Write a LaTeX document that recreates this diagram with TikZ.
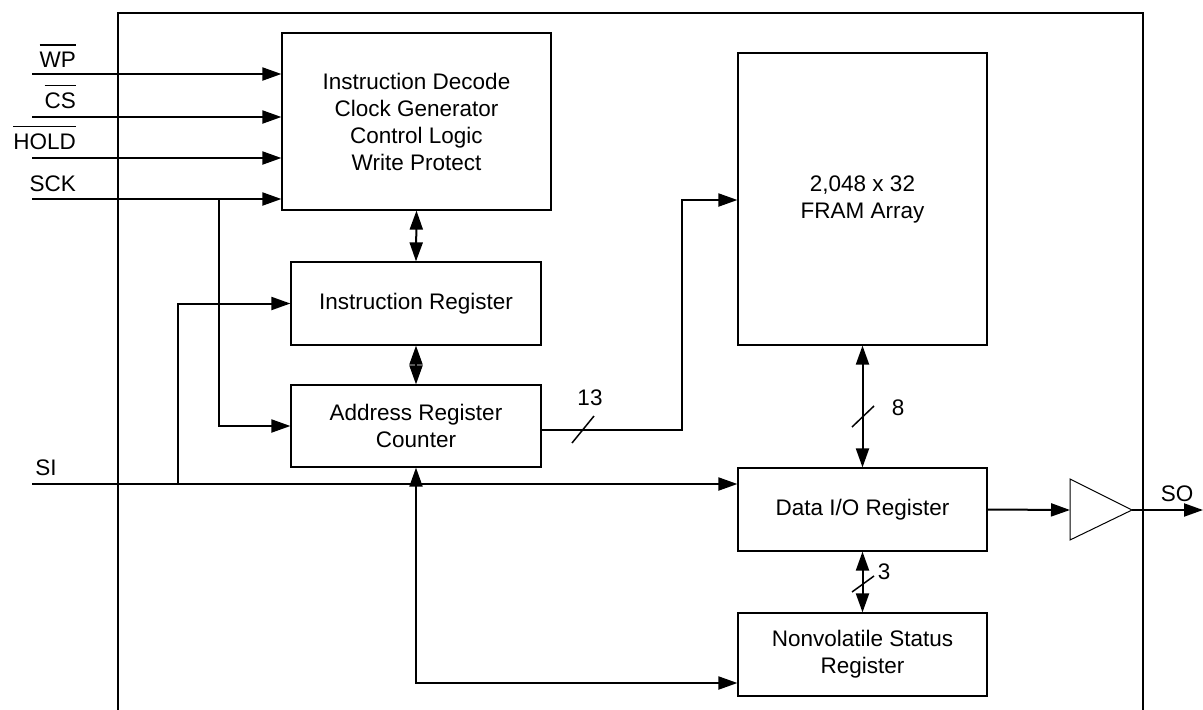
\documentclass[tikz,border=0pt]{standalone}
\usepackage{fontspec}
\setmainfont{Liberation Sans}
\usetikzlibrary{arrows.meta}
\newcommand\ovl[1]{\leavevmode\vbox{\hrule height 1.3pt\kern 6pt\hbox{#1}}}
\begin{document}
\begin{tikzpicture}[x=1pt,y=-1pt,
  blk/.style={draw,line width=1.2pt,fill=white,align=center,inner sep=0pt,font=\fontsize{22.5}{27}\selectfont},
  wire/.style={line width=2pt},
  arr/.style={wire,-{Triangle[length=19pt,width=13pt]}},
  barr/.style={wire,{Triangle[length=19pt,width=13pt]}-{Triangle[length=19pt,width=13pt]}},
  lbl/.style={font=\fontsize{22.5}{26}\selectfont,inner sep=0pt},
  slash/.style={line width=1.5pt}]
\useasboundingbox (0,0) rectangle (1203,710);
% outer frame
\draw[line width=1.3pt] (118,720) -- (118,13) -- (1143,13) -- (1143,720);
% blocks
\node[blk,minimum width=269pt,minimum height=177pt] (dec) at (416.5,121.5) {Instruction Decode\\Clock Generator\\Control Logic\\Write Protect};
\node[blk,minimum width=250pt,minimum height=83pt] (ir) at (416,303.5) {Instruction Register};
\node[blk,minimum width=250pt,minimum height=82pt] (ar) at (416,426) {Address Register\\Counter};
\node[blk,minimum width=249pt,minimum height=292pt] (fram) at (862.5,199) {2,048 x 32\\FRAM Array};
\node[blk,minimum width=249pt,minimum height=83pt] (dio) at (862.5,509.5) {Data I/O Register};
\node[blk,minimum width=249pt,minimum height=83pt] (nsr) at (862.5,654.5) {Nonvolatile Status\\Register};
% buffer
\draw[line width=1pt] (1070,479) coordinate (bufl) -- (1132,510) coordinate (buft) -- (1070,540) -- cycle;
\coordinate (bufin) at (1070,510);
% input pins
\coordinate (wp) at (32,74);
\coordinate (cs) at (32,117);
\coordinate (hold) at (32,158);
\coordinate (sck) at (32,199);
\coordinate (si) at (32,484);
\coordinate (so) at (1203,510);
\node[lbl,anchor=base east] (wpl) at (76,67) {\ovl{WP}};
\node[lbl,anchor=base east] (csl) at (76,108) {\ovl{CS}};
\node[lbl,anchor=base east] (holdl) at (76,149) {\ovl{HOLD}};
\node[lbl,anchor=base east] (sckl) at (76,191) {SCK};
\node[lbl,anchor=base] (sil) at (46,475) {SI};
\node[lbl,anchor=base] (sol) at (1177,501) {SO};
\draw[arr] (wp) -- (wp -| dec.west);
\draw[arr] (cs) -- (cs -| dec.west);
\draw[arr] (hold) -- (hold -| dec.west);
\draw[arr] (sck) -- (sck -| dec.west);
\coordinate (sckj) at (219,199);
\draw[arr] (sckj) |- (ar.west);
% SI
\draw[arr] (si) -- (si -| dio.west);
\coordinate (sij) at (178,484);
\draw[arr] (sij) |- (ir.west);
% vertical bidirectional
\draw[barr] (dec.south) -- (ir.north);
\draw[barr] (ir.south) -- (ar.north);
\coordinate (nsrc) at (416,683);
\draw[barr] (ar.south) -- (nsrc) -- (nsrc -| nsr.west);
% 13 bus
\coordinate (b13) at (682,430);
\draw[arr] (ar.east |- b13) -- (b13) |- (fram.west |- 0,200);
\draw[slash] (572,443) -- (594,416);
\node[lbl] (n13) at (590,398) {13};
% 8 bus
\draw[barr] (fram.south) -- (dio.north);
\draw[slash] (852,427) -- (874,406);
\node[lbl] (n8) at (898,408) {8};
\draw[barr] (dio.south) -- (nsr.north);
\draw[slash] (852,592) -- (874,576);
\node[lbl] (n3) at (884,572) {3};
% output
\draw[arr] (dio.east) -- (bufin);
\draw[arr] (buft) -- (so);
\end{tikzpicture}
\end{document}
